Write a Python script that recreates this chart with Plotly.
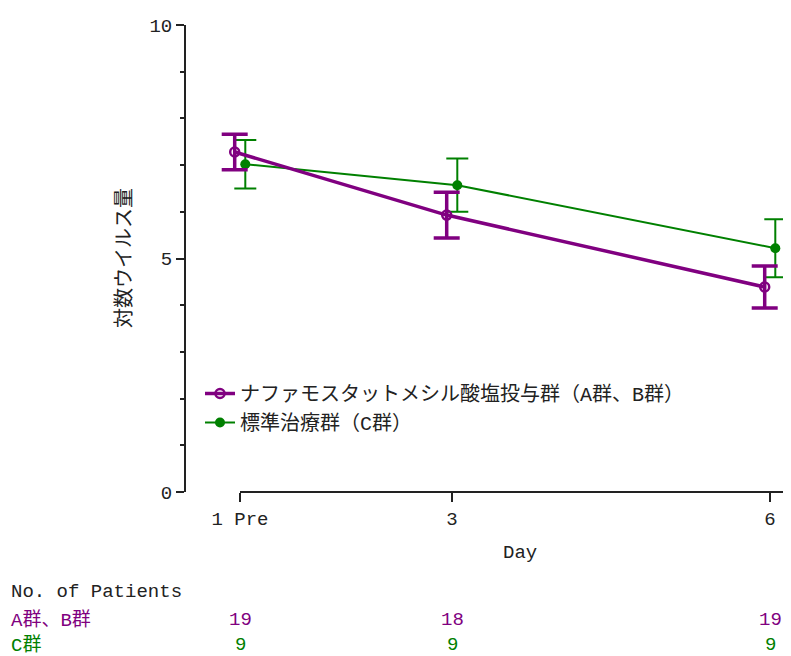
import plotly.graph_objects as go

days = [1, 3, 6]
day_labels = ["1 Pre", "3", "6"]
nafa_mean = [7.28, 5.93, 4.39]
nafa_err = [0.38, 0.49, 0.45]
std_mean = [7.02, 6.57, 5.22]
std_err = [0.52, 0.57, 0.62]
nafa_n = [19, 18, 19]
std_n = [9, 9, 9]

PURPLE = "#800080"
GREEN = "#008000"
FONT = "Liberation Mono, Noto Sans CJK JP"
PAD = 8                      # default page body margin
W, H = 791 - 2 * PAD, 656 - PAD
TOP, BOT = 25 - PAD, 492 - PAD
PH = BOT - TOP
YAX = 186 - PAD              # y axis line position (px)
X1 = 240 - PAD               # pixel of day 1
PPD = 106.0                  # pixels per day
off = 0.05


def py(pix):
    return (BOT - (pix - PAD)) / PH


def px(pix):
    return (pix - PAD) / W


x_start = 1 - (X1 - YAX) / PPD
x_end = 1 + (W - X1) / PPD

fig = go.Figure()
fig.add_trace(go.Scatter(
    x=[d + off for d in days], y=std_mean, mode="lines+markers",
    name="標準治療群（C群）", legendrank=2,
    line=dict(color=GREEN, width=2), cliponaxis=False,
    marker=dict(symbol="circle", size=10, color=GREEN),
    error_y=dict(type="data", array=std_err, color=GREEN, thickness=2, width=11),
))
fig.add_trace(go.Scatter(
    x=[d - off for d in days], y=nafa_mean, mode="lines+markers",
    name="ナファモスタットメシル酸塩投与群（A群、B群）", legendrank=1,
    line=dict(color=PURPLE, width=3.5), cliponaxis=False,
    marker=dict(symbol="circle-open", size=9, color=PURPLE, line=dict(width=2.5, color=PURPLE)),
    error_y=dict(type="data", array=nafa_err, color=PURPLE, thickness=3.5, width=13),
))

fig.update_layout(
    width=W, height=H,
    margin=dict(l=0, r=0, t=TOP, b=H - BOT, autoexpand=False),
    paper_bgcolor="white", plot_bgcolor="white",
    font=dict(family=FONT, size=19, color="#222"),
    showlegend=True,
    legend=dict(x=px(200), y=py(374), xanchor="left", yanchor="top",
                font=dict(size=20), bgcolor="rgba(0,0,0,0)", tracegroupgap=0),
    xaxis=dict(domain=[YAX / W, 1], range=[x_start, x_end], tickvals=days, ticktext=day_labels,
               automargin=False,
               showline=False, ticks="outside", ticklen=9,
               tickwidth=2, tickcolor="#222", showgrid=False, zeroline=False,
               tickfont=dict(size=19)),
    yaxis=dict(range=[0, 10], tickvals=[0, 5, 10],
               automargin=False,
               showline=True, linecolor="#222", linewidth=2, ticks="outside", ticklen=8,
               tickwidth=2, tickcolor="#222", showgrid=False, zeroline=False,
               minor=dict(dtick=1, ticks="outside", ticklen=4, tickwidth=2, tickcolor="#222"),
               tickfont=dict(size=19)),
    shapes=[dict(type="line", xref="x", yref="paper", x0=days[0], x1=x_end, y0=0, y1=0,
                 line=dict(color="#222", width=2), layer="above")],
)

anns = [
    dict(text="対数ウイルス量", xref="paper", yref="paper", x=px(125), y=py(258),
         textangle=-90, showarrow=False, font=dict(size=20), xanchor="center", yanchor="middle"),
    dict(text="Day", xref="paper", yref="paper", x=px(520), y=py(553),
         showarrow=False, font=dict(size=19), xanchor="center", yanchor="middle"),
    dict(text="No. of Patients", xref="paper", yref="paper", x=px(9), y=py(592),
         showarrow=False, font=dict(size=19), xanchor="left", yanchor="middle"),
    dict(text="A群、B群", xref="paper", yref="paper", x=px(9), y=py(620),
         showarrow=False, font=dict(size=19, color=PURPLE), xanchor="left", yanchor="middle"),
    dict(text="C群", xref="paper", yref="paper", x=px(9), y=py(645),
         showarrow=False, font=dict(size=19, color=GREEN), xanchor="left", yanchor="middle"),
]
for d, n in zip(days, nafa_n):
    anns.append(dict(text=str(n), xref="x", yref="paper", x=d, y=py(620),
                     showarrow=False, font=dict(size=19, color=PURPLE), xanchor="center", yanchor="middle"))
for d, n in zip(days, std_n):
    anns.append(dict(text=str(n), xref="x", yref="paper", x=d, y=py(645),
                     showarrow=False, font=dict(size=19, color=GREEN), xanchor="center", yanchor="middle"))
fig.update_layout(annotations=anns)

fig.write_html("out.html")
